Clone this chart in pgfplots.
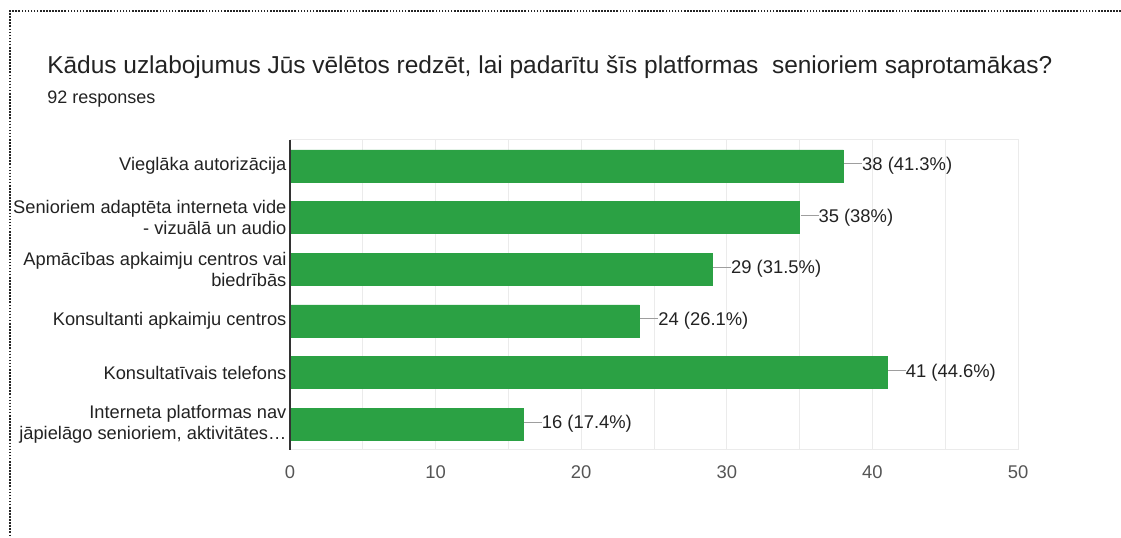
\documentclass[border=0pt]{standalone}
\usepackage{pgfplots}
\pgfplotsset{compat=1.18}
\usepackage{pgfplotstable}
\usepackage{fontspec}
\setmainfont{Liberation Sans}
\definecolor{bargreen}{HTML}{2BA144}
\definecolor{gridgray}{HTML}{EBEBEB}
\definecolor{linegray}{HTML}{9E9E9E}
\definecolor{textdark}{HTML}{222222}
\definecolor{ticktext}{HTML}{555555}
\definecolor{axisdark}{HTML}{333333}
\pgfplotstableread{
idx value label
0 38 {38 (41.3\%)}
1 35 {35 (38\%)}
2 29 {29 (31.5\%)}
3 24 {24 (26.1\%)}
4 41 {41 (44.6\%)}
5 16 {16 (17.4\%)}
}\datatable
\begin{document}
\begin{tikzpicture}
\useasboundingbox (0,0) rectangle (840.75pt,403.5pt);
\draw[black!85, line width=1.2pt, dash pattern=on 1.2pt off 1.1pt] (840.75pt,395.25pt) -- (7.5pt,395.25pt) -- (7.5pt,0pt);
\node[anchor=base west, inner sep=0pt, font=\fontsize{18.35}{22}\selectfont, text=textdark] at (35.25pt,348pt) {Kādus uzlabojumus Jūs vēlētos redzēt, lai padarītu šīs platformas~ senioriem saprotamākas?};
\node[anchor=base west, inner sep=0pt, font=\fontsize{13.5}{16}\selectfont, text=textdark] at (35.25pt,325.5pt) {92 responses};
\begin{axis}[
  at={(217.5pt,66pt)}, anchor=south west,
  scale only axis, width=546pt, height=232.5pt,
  xbar, bar width=24pt,
  xmin=0, xmax=50, ymin=-0.5, ymax=5.5, y dir=reverse,
  xtick={0,10,...,50}, minor xtick={5,15,...,45},
  ytick={0,1,2,3,4,5},
  yticklabels={{Vieglāka autorizācija},{Senioriem adaptēta interneta vide\\- vizuālā un audio},{Apmācības apkaimju centros vai\\biedrībās},{Konsultanti apkaimju centros},{Konsultatīvais telefons},{Interneta platformas nav\\jāpielāgo senioriem, aktivitātes…}},
  yticklabel style={align=right, font=\fontsize{13.7}{16}\selectfont, text=textdark, inner sep=0pt, xshift=-2.5pt},
  xticklabel style={font=\fontsize{13.8}{16}\selectfont, text=ticktext, yshift=-8pt},
  /pgf/number format/assume math mode=true,
  major tick length=0pt, minor tick length=0pt,
  xmajorgrids, xminorgrids,
  major grid style={gridgray, line width=0.75pt},
  minor grid style={gridgray, line width=0.75pt},
  axis line style={gridgray, line width=0.75pt},
  point meta=explicit symbolic,
  nodes near coords={\textcolor{linegray}{\rule[0.34em]{13.5pt}{0.75pt}}\pgfplotspointmeta},
  nodes near coords style={anchor=west, inner sep=0pt, xshift=0.5pt, font=\fontsize{13.8}{16}\selectfont, text=textdark},
  clip=false,
]
\addplot[fill=bargreen, draw=bargreen] table[x=value, y=idx, meta=label] {\datatable};
\draw[axisdark, line width=1pt] (rel axis cs:0,0) -- (rel axis cs:0,1);
\end{axis}
\end{tikzpicture}
\end{document}
